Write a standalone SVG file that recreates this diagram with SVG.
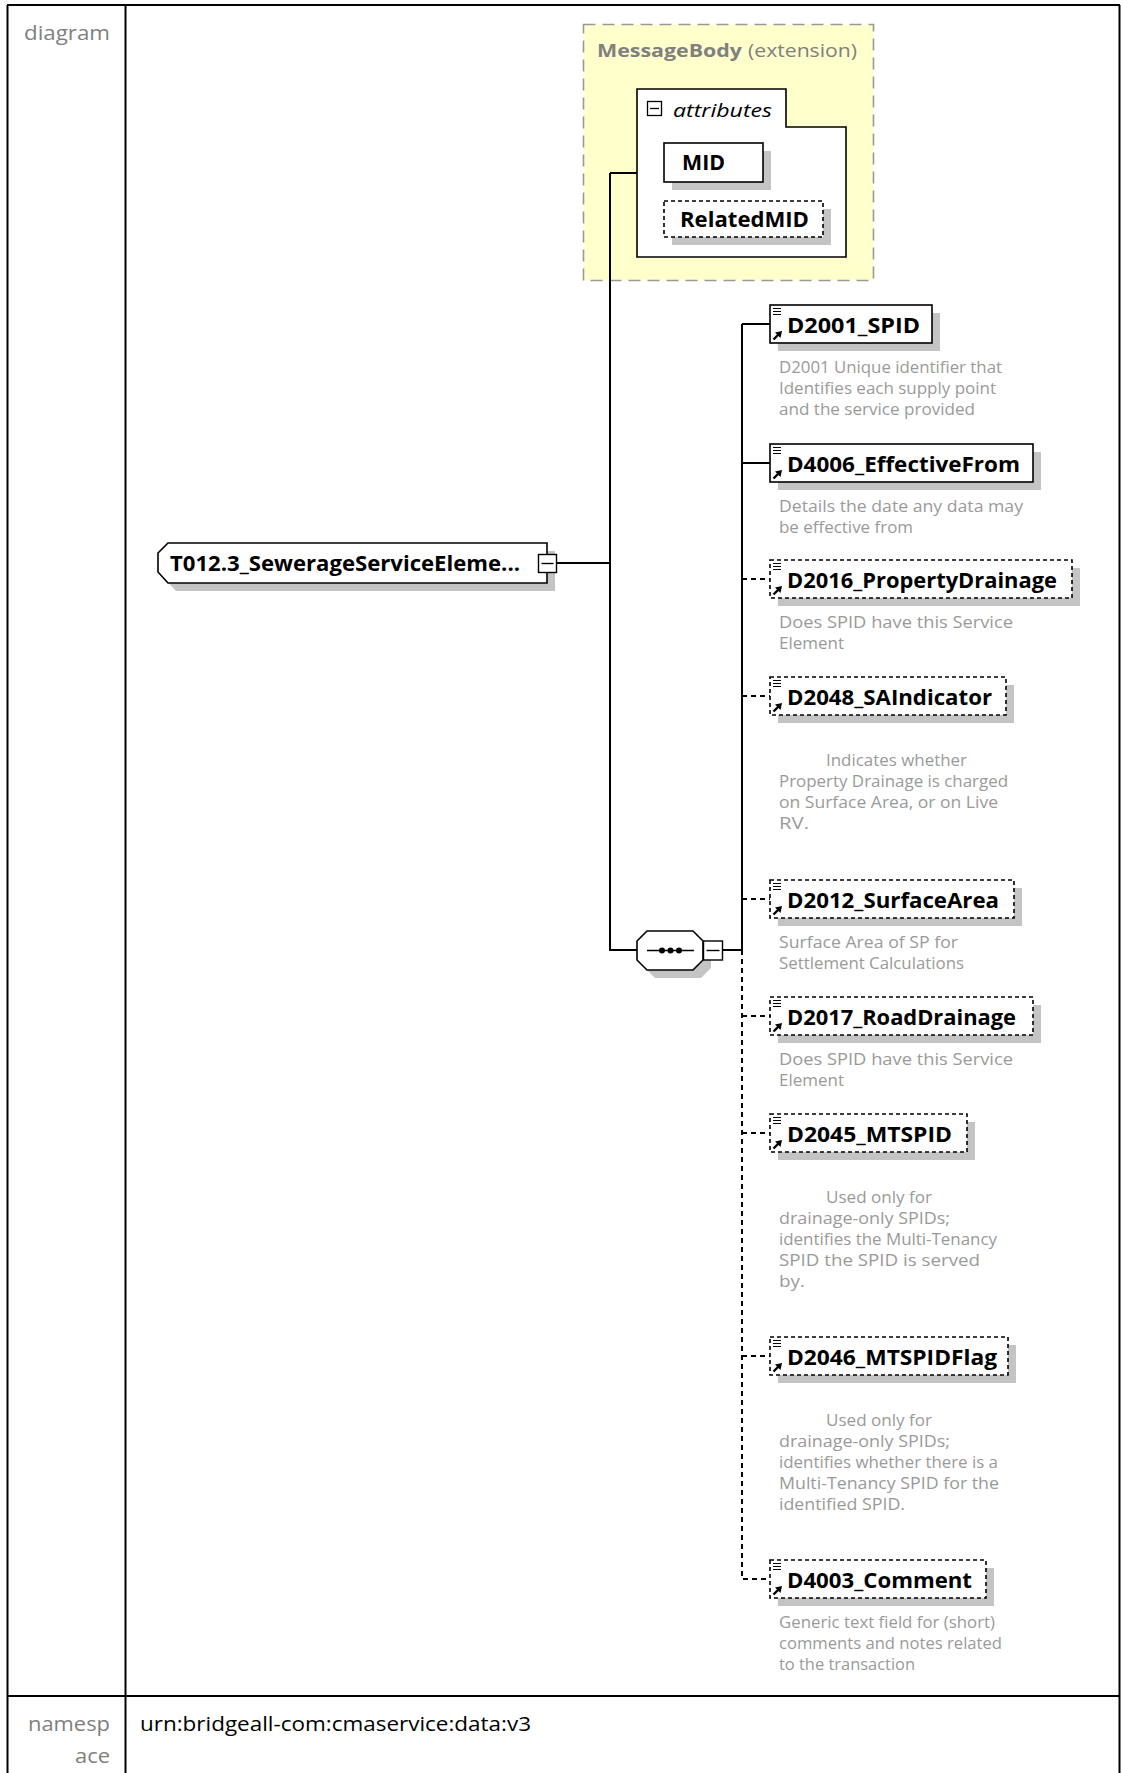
<svg xmlns="http://www.w3.org/2000/svg" xmlns:xlink="http://www.w3.org/1999/xlink" width="1121" height="1773" viewBox="0 0 1121 1773">
<style>
.frame{stroke:#000;stroke-width:2;fill:none}
.side{font-family:"Open Sans","Noto Sans",sans-serif;font-size:20px;fill:#808080}
.val{font-family:"Open Sans","Noto Sans",sans-serif;font-size:20px;fill:#000}
.lbl{font-family:"Open Sans","Noto Sans",sans-serif;font-size:22px;font-weight:bold;fill:#000}
.desc{font-family:"Open Sans","Noto Sans",sans-serif;font-size:16px;fill:#9a9a9a}
.box{fill:#fff;stroke:#000;stroke-width:1.6}
.dbox{fill:#fff;stroke:#000;stroke-width:1.6;stroke-dasharray:4,3}
.shadow{fill:#c4c4c4}
.conn{stroke:#000;stroke-width:2;fill:none}
.dconn{stroke:#000;stroke-width:2;fill:none;stroke-dasharray:5,4}
.ico{stroke:#000;stroke-width:1.2;fill:none}
</style>
<defs>
<g id="icon">
<path class="ico" d="M3 3.5H11M3 6.5H11M3 9.5H11"/>
<path d="M3.5 34.5L9 29" stroke="#000" stroke-width="2.4"/>
<path d="M12 26L5 27.5L10.5 33Z" fill="#000"/>
</g>
</defs>

<g id="table">
<path class="frame" d="M7 5H1120M7.5 5V1773M1119.5 5V1773M125.5 5V1773M7 1696H1120"/>
<text class="side" x="110" y="40" text-anchor="end" textLength="86" lengthAdjust="spacingAndGlyphs">diagram</text>
<text class="side" x="110" y="1731" text-anchor="end" textLength="82" lengthAdjust="spacingAndGlyphs">namesp</text>
<text class="side" x="110" y="1763" text-anchor="end" textLength="35" lengthAdjust="spacingAndGlyphs">ace</text>
<text class="val" x="140" y="1731" textLength="391" lengthAdjust="spacingAndGlyphs">urn:bridgeall-com:cmaservice:data:v3</text>
</g>

<g id="MessageBody">
<rect x="583.5" y="24.5" width="290" height="256" fill="#ffffcc" stroke="#999" stroke-width="1.6" stroke-dasharray="12,7"/>
<text x="597" y="57" font-family="Open Sans, Noto Sans, sans-serif" font-size="18" fill="#808080"><tspan font-weight="bold" textLength="145" lengthAdjust="spacingAndGlyphs">MessageBody</tspan><tspan x="748" textLength="109" lengthAdjust="spacingAndGlyphs">(extension)</tspan></text>
</g>

<g id="attributes">
<path d="M637 89H786V127H846V257H637Z" fill="#fff" stroke="#000" stroke-width="1.6"/>
<rect x="647.5" y="101.5" width="14" height="14" fill="#fff" stroke="#000" stroke-width="1.3"/>
<path d="M650 108.5H659" stroke="#000" stroke-width="1.3"/>
<text x="673" y="117" font-family="Open Sans, Noto Sans, sans-serif" font-size="19" font-style="italic" fill="#000" textLength="99" lengthAdjust="spacingAndGlyphs">attributes</text>
</g>

<g id="MID">
<rect class="shadow" x="672" y="151" width="99" height="39"/>
<rect class="box" x="664" y="143" width="99" height="39"/>
<text class="lbl" x="682" y="170" textLength="43" lengthAdjust="spacingAndGlyphs">MID</text>
</g>

<g id="RelatedMID">
<rect class="shadow" x="672" y="209" width="159" height="36"/>
<rect class="dbox" x="664" y="201" width="159" height="36"/>
<text class="lbl" x="680" y="227" textLength="129" lengthAdjust="spacingAndGlyphs">RelatedMID</text>
</g>

<g id="T012">
<path class="shadow" d="M176 551H555V591H176L166 580V561Z"/>
<path d="M168 543H547V583H168L158 572V553Z" fill="#fff" stroke="#000" stroke-width="1.6"/>
<text class="lbl" x="170" y="571" textLength="350" lengthAdjust="spacingAndGlyphs">T012.3_SewerageServiceEleme...</text>
<rect x="538.5" y="554.5" width="18" height="18" fill="#fff" stroke="#000" stroke-width="1.4"/>
<path d="M541.5 563.5H553.5" stroke="#000" stroke-width="1.4"/>
</g>

<g id="sequence">
<path class="shadow" d="M655 939H701L711 949V968L701 978H655L645 968V949Z"/>
<path d="M647 931H693L703 941V960L693 970H647L637 960V941Z" fill="#fff" stroke="#000" stroke-width="1.6"/>
<path d="M647 950.5H694" stroke="#000" stroke-width="1.6"/>
<circle cx="662" cy="950.5" r="3"/>
<circle cx="670.5" cy="950.5" r="3"/>
<circle cx="679" cy="950.5" r="3"/>
<rect x="703.5" y="941" width="19" height="19" fill="#fff" stroke="#000" stroke-width="1.4"/>
<path d="M706.5 950.5H719.5" stroke="#000" stroke-width="1.4"/>
</g>

<g id="connectors">
<path class="conn" d="M557 563H610M610 173H637M610 173V950H637M723 950H742M742 324V950M742 324H770M742 463H770"/>
<path class="dconn" d="M742 950V1579H770M742 579H770M742 696H770M742 899H770M742 1016H770M742 1133H770M742 1356H770"/>
</g>

<g id="D2001_SPID">
<rect class="shadow" x="778" y="313" width="162" height="38"/>
<rect class="box" x="770" y="305" width="162" height="38"/>
<use xlink:href="#icon" x="770" y="305"/>
<text class="lbl" x="787" y="333" textLength="133" lengthAdjust="spacingAndGlyphs">D2001_SPID</text>
<text class="desc" x="779" y="373" textLength="223" lengthAdjust="spacingAndGlyphs">D2001 Unique identifier that</text>
<text class="desc" x="779" y="394" textLength="217" lengthAdjust="spacingAndGlyphs">Identifies each supply point</text>
<text class="desc" x="779" y="415" textLength="196" lengthAdjust="spacingAndGlyphs">and the service provided</text>
</g>

<g id="D4006_EffectiveFrom">
<rect class="shadow" x="778" y="452" width="263" height="38"/>
<rect class="box" x="770" y="444" width="263" height="38"/>
<use xlink:href="#icon" x="770" y="444"/>
<text class="lbl" x="787" y="472" textLength="233" lengthAdjust="spacingAndGlyphs">D4006_EffectiveFrom</text>
<text class="desc" x="779" y="512" textLength="244" lengthAdjust="spacingAndGlyphs">Details the date any data may</text>
<text class="desc" x="779" y="533" textLength="134" lengthAdjust="spacingAndGlyphs">be effective from</text>
</g>

<g id="D2016_PropertyDrainage">
<rect class="shadow" x="778" y="568" width="302" height="38"/>
<rect class="dbox" x="770" y="560" width="302" height="38"/>
<use xlink:href="#icon" x="770" y="560"/>
<text class="lbl" x="787" y="588" textLength="270" lengthAdjust="spacingAndGlyphs">D2016_PropertyDrainage</text>
<text class="desc" x="779" y="628" textLength="234" lengthAdjust="spacingAndGlyphs">Does SPID have this Service</text>
<text class="desc" x="779" y="649" textLength="65" lengthAdjust="spacingAndGlyphs">Element</text>
</g>

<g id="D2048_SAIndicator">
<rect class="shadow" x="778" y="685" width="236" height="38"/>
<rect class="dbox" x="770" y="677" width="236" height="38"/>
<use xlink:href="#icon" x="770" y="677"/>
<text class="lbl" x="787" y="705" textLength="205" lengthAdjust="spacingAndGlyphs">D2048_SAIndicator</text>
<text class="desc" x="826" y="766" textLength="141" lengthAdjust="spacingAndGlyphs">Indicates whether</text>
<text class="desc" x="779" y="787" textLength="229" lengthAdjust="spacingAndGlyphs">Property Drainage is charged</text>
<text class="desc" x="779" y="808" textLength="219" lengthAdjust="spacingAndGlyphs">on Surface Area, or on Live</text>
<text class="desc" x="779" y="829" textLength="30" lengthAdjust="spacingAndGlyphs">RV.</text>
</g>

<g id="D2012_SurfaceArea">
<rect class="shadow" x="778" y="888" width="244" height="38"/>
<rect class="dbox" x="770" y="880" width="244" height="38"/>
<use xlink:href="#icon" x="770" y="880"/>
<text class="lbl" x="787" y="908" textLength="212" lengthAdjust="spacingAndGlyphs">D2012_SurfaceArea</text>
<text class="desc" x="779" y="948" textLength="179" lengthAdjust="spacingAndGlyphs">Surface Area of SP for</text>
<text class="desc" x="779" y="969" textLength="185" lengthAdjust="spacingAndGlyphs">Settlement Calculations</text>
</g>

<g id="D2017_RoadDrainage">
<rect class="shadow" x="778" y="1005" width="263" height="38"/>
<rect class="dbox" x="770" y="997" width="263" height="38"/>
<use xlink:href="#icon" x="770" y="997"/>
<text class="lbl" x="787" y="1025" textLength="229" lengthAdjust="spacingAndGlyphs">D2017_RoadDrainage</text>
<text class="desc" x="779" y="1065" textLength="234" lengthAdjust="spacingAndGlyphs">Does SPID have this Service</text>
<text class="desc" x="779" y="1086" textLength="65" lengthAdjust="spacingAndGlyphs">Element</text>
</g>

<g id="D2045_MTSPID">
<rect class="shadow" x="778" y="1122" width="197" height="38"/>
<rect class="dbox" x="770" y="1114" width="197" height="38"/>
<use xlink:href="#icon" x="770" y="1114"/>
<text class="lbl" x="787" y="1142" textLength="165" lengthAdjust="spacingAndGlyphs">D2045_MTSPID</text>
<text class="desc" x="826" y="1203" textLength="106" lengthAdjust="spacingAndGlyphs">Used only for</text>
<text class="desc" x="779" y="1224" textLength="171" lengthAdjust="spacingAndGlyphs">drainage-only SPIDs;</text>
<text class="desc" x="779" y="1245" textLength="218" lengthAdjust="spacingAndGlyphs">identifies the Multi-Tenancy</text>
<text class="desc" x="779" y="1266" textLength="201" lengthAdjust="spacingAndGlyphs">SPID the SPID is served</text>
<text class="desc" x="779" y="1287" textLength="26" lengthAdjust="spacingAndGlyphs">by.</text>
</g>

<g id="D2046_MTSPIDFlag">
<rect class="shadow" x="778" y="1345" width="238" height="38"/>
<rect class="dbox" x="770" y="1337" width="238" height="38"/>
<use xlink:href="#icon" x="770" y="1337"/>
<text class="lbl" x="787" y="1365" textLength="210" lengthAdjust="spacingAndGlyphs">D2046_MTSPIDFlag</text>
<text class="desc" x="826" y="1426" textLength="106" lengthAdjust="spacingAndGlyphs">Used only for</text>
<text class="desc" x="779" y="1447" textLength="171" lengthAdjust="spacingAndGlyphs">drainage-only SPIDs;</text>
<text class="desc" x="779" y="1468" textLength="219" lengthAdjust="spacingAndGlyphs">identifies whether there is a</text>
<text class="desc" x="779" y="1489" textLength="220" lengthAdjust="spacingAndGlyphs">Multi-Tenancy SPID for the</text>
<text class="desc" x="779" y="1510" textLength="126" lengthAdjust="spacingAndGlyphs">identified SPID.</text>
</g>

<g id="D4003_Comment">
<rect class="shadow" x="778" y="1568" width="216" height="38"/>
<rect class="dbox" x="770" y="1560" width="216" height="38"/>
<use xlink:href="#icon" x="770" y="1560"/>
<text class="lbl" x="787" y="1588" textLength="185" lengthAdjust="spacingAndGlyphs">D4003_Comment</text>
<text class="desc" x="779" y="1628" textLength="216" lengthAdjust="spacingAndGlyphs">Generic text field for (short)</text>
<text class="desc" x="779" y="1649" textLength="223" lengthAdjust="spacingAndGlyphs">comments and notes related</text>
<text class="desc" x="779" y="1670" textLength="136" lengthAdjust="spacingAndGlyphs">to the transaction</text>
</g>
</svg>
